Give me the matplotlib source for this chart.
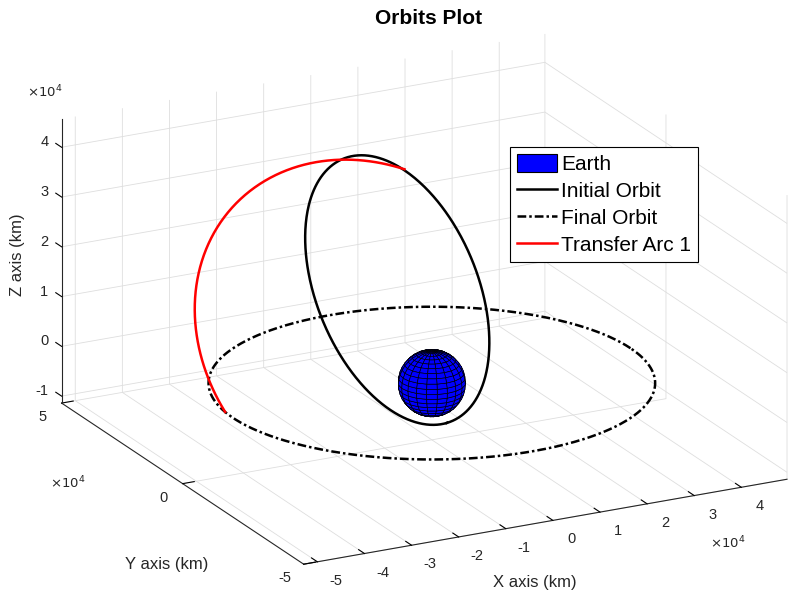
import numpy as np
import matplotlib.pyplot as plt
import matplotlib.patches as mpatches
from matplotlib.lines import Line2D
from matplotlib.ticker import NullFormatter

plt.rcParams['font.family'] = ['Liberation Sans', 'DejaVu Sans']
plt.rcParams['grid.color'] = '#dedede'
plt.rcParams['grid.linewidth'] = 0.6

# Earth radius [km]
r_earth = 6378.0

# Orbital elements: a [km], e, i [deg], RAAN [deg], arg. of perigee [deg]
initial_orbit = [26900.0, 0.700, 57.5, 13.0, 270.0]
final_orbit = [42164.0, 0.0, 0.0, 0.0, 0.0]
transfer_arc = [36630.0, 0.3743, 55.4, -5.0, 312.49]
transfer_nu = [131.91, 227.51]  # true anomaly span of the arc [deg]

# Axes (km)
x_lim = [-5.29e4, 4.97e4]
y_lim = [-5.0e4, 5.0e4]
z_lim = [-1.14e4, 4.57e4]
x_ticks = [-5e4, -4e4, -3e4, -2e4, -1e4, 0, 1e4, 2e4, 3e4, 4e4]
y_ticks = [-5e4, 0, 5e4]
z_ticks = [-1e4, 0, 1e4, 2e4, 3e4, 4e4]


def orbit_xyz(a, e, inc, raan, argp, nu_deg):
    nu = np.radians(nu_deg)
    r = a * (1 - e**2) / (1 + e * np.cos(nu))
    i, O, w = np.radians([inc, raan, argp])
    u = w + nu
    x = r * (np.cos(O) * np.cos(u) - np.sin(O) * np.sin(u) * np.cos(i))
    y = r * (np.sin(O) * np.cos(u) + np.cos(O) * np.sin(u) * np.cos(i))
    z = r * np.sin(u) * np.sin(i)
    return x, y, z


full = np.linspace(0, 360, 721)
tick_color = '#262626'

fig = plt.figure(figsize=(7.99, 5.94), dpi=100)
ax = fig.add_axes([0.021, -0.017, 1.0, 1.0], projection='3d', proj_type='ortho')
ax.computed_zorder = False

# Earth
lon = np.linspace(0, 2 * np.pi, 21)
lat = np.linspace(0, np.pi, 21)
ex = r_earth * np.outer(np.cos(lon), np.sin(lat))
ey = r_earth * np.outer(np.sin(lon), np.sin(lat))
ez = r_earth * np.outer(np.ones_like(lon), np.cos(lat))
ax.plot_surface(ex, ey, ez, color='blue', edgecolor='black', linewidth=0.45,
                shade=False, zorder=3)

ax.plot(*orbit_xyz(*final_orbit, full), color='black', lw=1.8,
        linestyle=(0, (3.5, 1.2, 1.0, 1.2)), zorder=2)
ax.plot(*orbit_xyz(*initial_orbit, full), color='black', lw=1.8, zorder=4)
nu_arc = np.linspace(transfer_nu[0], transfer_nu[1], 200)
ax.plot(*orbit_xyz(*transfer_arc, nu_arc), color='red', lw=1.8, zorder=5)

ax.set_xlim(x_lim)
ax.set_ylim(y_lim)
ax.set_zlim(z_lim)
ax.set_xticks(x_ticks)
ax.set_yticks(y_ticks)
ax.set_zticks(z_ticks)
for axis in (ax.xaxis, ax.yaxis, ax.zaxis):
    axis.set_major_formatter(NullFormatter())
    axis.set_pane_color((1, 1, 1, 0))
    axis.pane.set_edgecolor('#dedede')
    axis.line.set_color(tick_color)
    axis._axinfo['tick']['inward_factor'] = 0.0
    axis._axinfo['tick']['outward_factor'] = 0.3
    axis._axinfo['tick']['color'] = tick_color
# z ticks point along +y, as in the original
ax.zaxis._get_tickdir = lambda *args, **kwargs: 1

# tick labels in units of 1e4 km
for xt in x_ticks:
    ax.text(xt, y_lim[0] - 0.75e4, z_lim[0], f'{xt / 1e4:g}', ha='center', va='top',
            fontsize=10.5, color=tick_color)
for yt in y_ticks:
    ax.text(x_lim[0] - 0.4e4, yt, z_lim[0] - 0.08e4, f'{yt / 1e4:g}', ha='center', va='top',
            fontsize=10.5, color=tick_color)
for zt in z_ticks:
    ax.text(x_lim[0], y_lim[1] + 0.55e4, zt - 0.08e4, f'{zt / 1e4:g}', ha='right', va='center',
            fontsize=10.5, color=tick_color)

ax.set_box_aspect((x_lim[1] - x_lim[0], y_lim[1] - y_lim[0], z_lim[1] - z_lim[0]), zoom=1.335)
ax.view_init(elev=20, azim=-117.2)

fig.text(429 / 799, 1 - 18 / 594, 'Orbits Plot', ha='center', va='center', fontsize=15, fontweight='bold')
fig.text(535 / 799, 1 - 583 / 594, 'X axis (km)', ha='center', va='center', fontsize=12, color=tick_color)
fig.text(167 / 799, 1 - 565 / 594, 'Y axis (km)', ha='center', va='center', fontsize=12, color=tick_color)
fig.text(18 / 799, 1 - 255 / 594, 'Z axis (km)', ha='center', va='center', fontsize=12, color=tick_color, rotation=90)
for px, py in [(45, 92), (68, 483), (728, 543)]:
    fig.text(px / 799, 1 - py / 594, r'$\times10^4$', ha='center', va='center', fontsize=9.5, color=tick_color)

handles = [mpatches.Patch(facecolor='blue', edgecolor='black', linewidth=0.8),
           Line2D([], [], color='black', lw=1.8),
           Line2D([], [], color='black', lw=1.8, linestyle=(0, (3.5, 1.2, 1.0, 1.2))),
           Line2D([], [], color='red', lw=1.8)]
labels = ['Earth', 'Initial Orbit', 'Final Orbit', 'Transfer Arc 1']
leg = fig.legend(handles, labels, loc='upper left', bbox_to_anchor=(510 / 799, 1 - 147 / 594),
                 fontsize=15, frameon=True, fancybox=False, edgecolor='black', framealpha=1,
                 borderpad=0.32, handlelength=1.95, handleheight=1.0, handletextpad=0.2,
                 labelspacing=0.32, borderaxespad=0)
leg.get_frame().set_linewidth(0.8)

fig.savefig('out.png', dpi=100)
